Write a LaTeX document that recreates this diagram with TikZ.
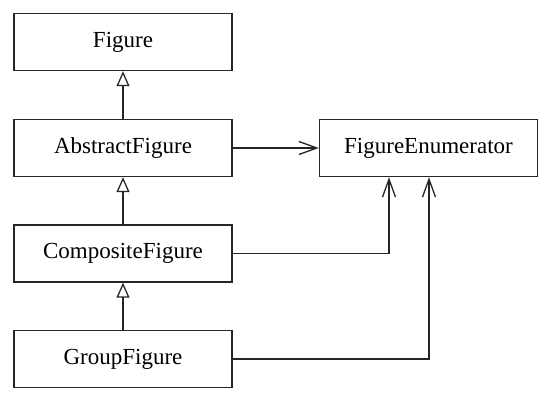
\documentclass[tikz,border=0pt]{standalone}
\usepackage{fontspec}
\setmainfont{Liberation Serif}
\usetikzlibrary{arrows.meta}
\begin{document}
\begin{tikzpicture}[x=1pt,y=-1pt,
  cls/.style={draw=black!85, line width=1.4pt, minimum width=218pt, minimum height=57pt,
    font=\fontsize{23}{27}\selectfont, inner sep=0pt},
  inh/.style={draw=black!85, line width=1.4pt, -{Triangle[open, width=13pt, length=15pt, line width=1.3pt]}},
  assoc/.style={draw=black!85, line width=1.4pt, -{Straight Barb[width=13pt, length=18pt, line width=1.3pt]}}]
\useasboundingbox (0,0) rectangle (550,402);
\node[cls] (fig) at (123,42) {Figure};
\node[cls] (abs) at (123,148) {AbstractFigure};
\node[cls] (comp) at (123,253.5) {CompositeFigure};
\node[cls] (grp) at (123,359) {GroupFigure};
\node[cls] (enum) at (428.5,148) {FigureEnumerator};
\draw[inh] (abs) -- (fig);
\draw[inh] (comp) -- (abs);
\draw[inh] (grp) -- (comp);
\draw[assoc] (abs) -- (enum);
\coordinate (c1) at (389,253.5);
\coordinate (c2) at (429,359);
\draw[assoc] (comp.east) -- (c1) -- (c1 |- enum.south);
\draw[assoc] (grp.east) -- (c2) -- (c2 |- enum.south);
\end{tikzpicture}
\end{document}
